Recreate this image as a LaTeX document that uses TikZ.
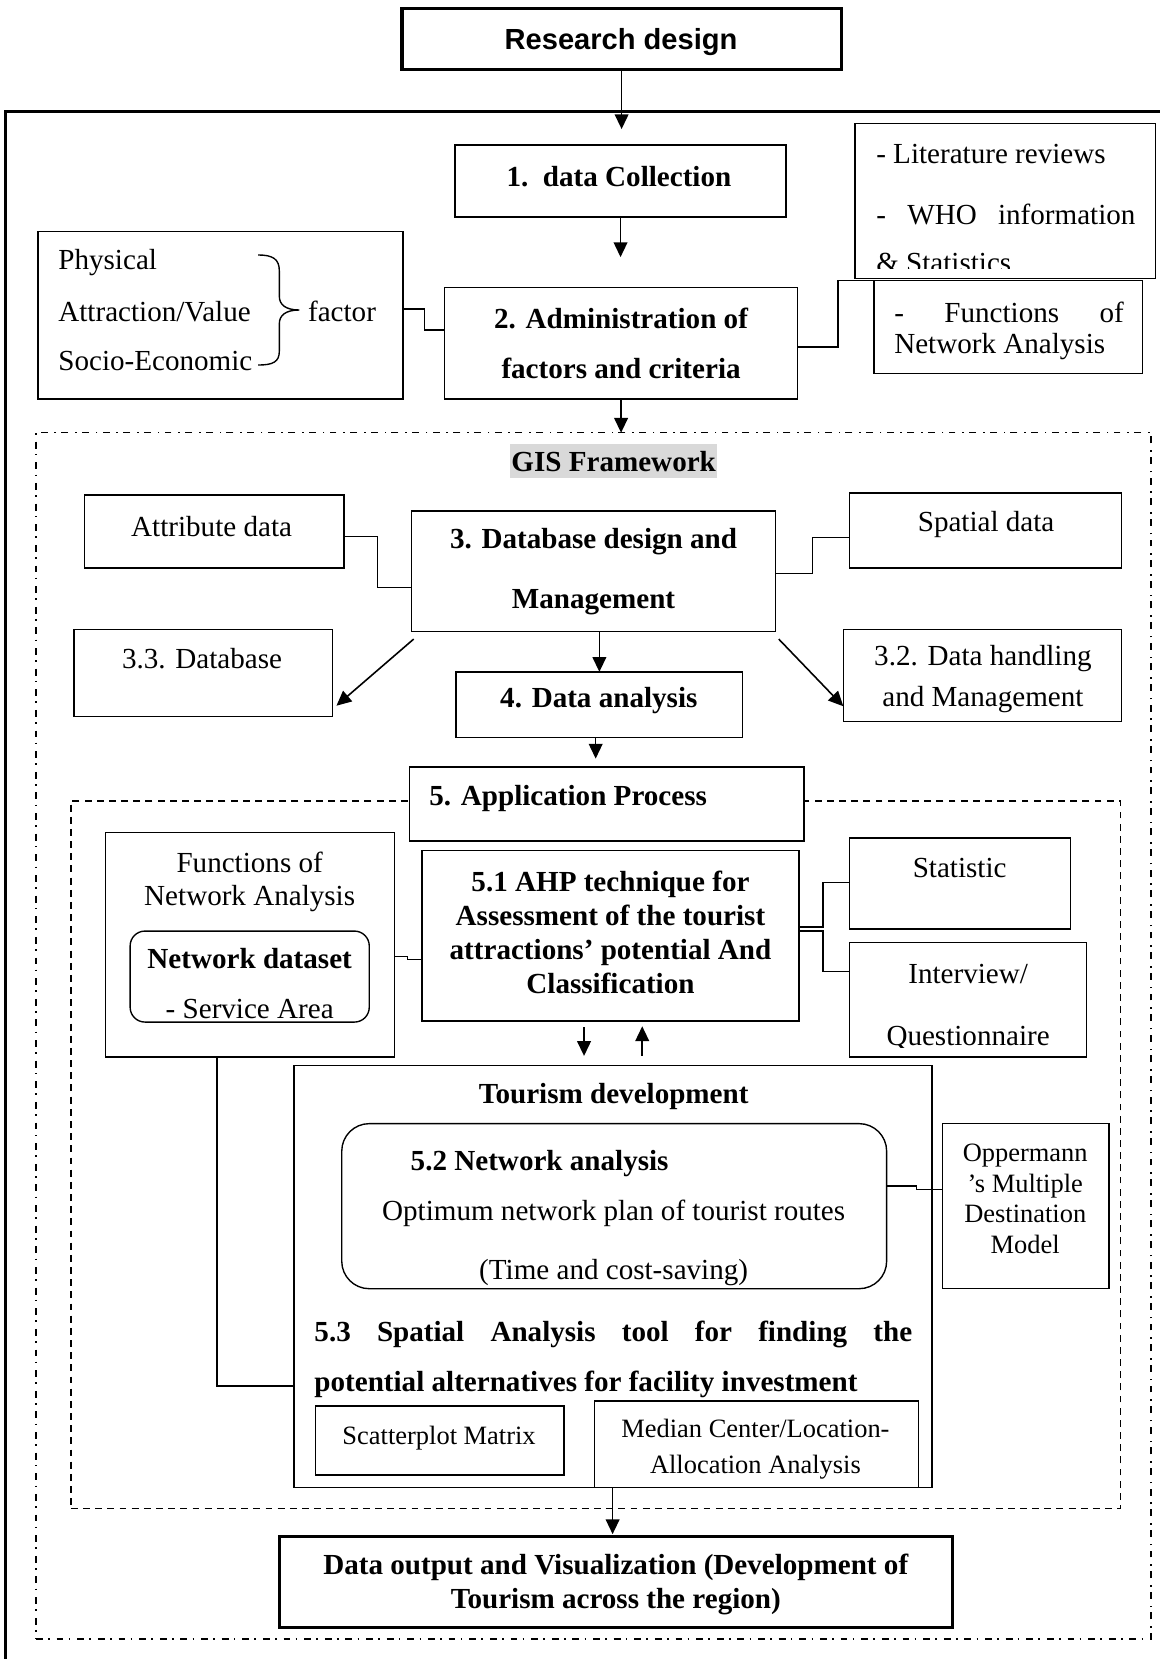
\documentclass[tikz,border=0pt]{standalone}
\usepackage{fontspec}
\setmainfont{Liberation Serif}
\newfontfamily\arialfont{Liberation Sans}
\usetikzlibrary{arrows.meta,calc}
\definecolor{labelgray}{RGB}{217,217,217}
\newcommand{\fs}{\fontsize{27.5}{32}\selectfont}
\newcommand{\fsm}{\fontsize{25}{29}\selectfont}
% box node from its corners: \bx[options]{x1}{y1}{x2}{y2}{name}
\newcommand{\bx}[6][]{\node[rect,anchor=north west,minimum width={#4-#2},minimum height={#5-#3},#1] (#6) at (#2,#3) {};}

\begin{document}
\begin{tikzpicture}[x=1pt,y=-1pt,
  rect/.style={draw, line width=1.3pt, fill=white, inner sep=0pt, outer sep=0pt},
  heavy/.style={line width=3pt},
  txtbase/.style={inner sep=0pt, yshift=-2.5pt},
  t/.style={txtbase, font=\fs},
  tb/.style={txtbase, font=\fs\bfseries},
  ts/.style={txtbase, font=\fsm},
  lines/.style={txtbase, align=center, font=\fontsize{27.5}{#1}\selectfont},
  blines/.style={txtbase, align=center, font=\fontsize{27.5}{#1}\selectfont\bfseries},
  slines/.style={txtbase, align=center, font=\fontsize{25}{#1}\selectfont},
  conn/.style={line width=1.3pt},
  arr/.style={line width=1.5pt, -{Triangle[length=14pt,width=13pt]}},
  dashdotframe/.style={line width=1.4pt, dash pattern=on 6.5pt off 5pt on 1.5pt off 6.5pt},
  dashedframe/.style={line width=1.3pt, dash pattern=on 6.5pt off 5pt},
]
\useasboundingbox (0,0) rectangle (1096,1568);

% outer solid frame (left and top edges)
\draw[line width=2.8pt] (5,1568) -- (5,105) -- (1096,105);

% title box
\bx[heavy]{380}{8}{795}{66}{rd}
\node[txtbase, font=\arialfont\fs\bfseries] (rd-t) at (587,37) {Research design};

% top section
\bx{430}{137}{743}{205}{dc}
\node[tb] (dc-t) at (585,164) {1.\ \ data Collection};

\bx{826}{265}{1080}{353}{fna}
\node[t, anchor=west] (fna-t1) at (845,293) {\makebox[217pt][s]{- Functions of}};
\node[t, anchor=west] (fna-t2) at (845,325) {Network Analysis};

\bx{808}{117}{1092}{263}{lit}
\node[t, anchor=west] (lit-t1) at (828,143) {- Literature reviews};
\node[t, anchor=west] (lit-t2) at (828,200) {\makebox[245pt][s]{- WHO information}};
\begin{scope}
  \clip (808,117) rectangle (1092,254);
  \node[t, anchor=west] (lit-t3) at (828,246) {\& Statistics};
\end{scope}

\bx{36}{219}{381}{377}{phys}
\node[t, anchor=west] (phys-t1) at (55,246) {Physical};
\node[t, anchor=west] (phys-t2) at (55,292) {Attraction/Value};
\node[t, anchor=west] (phys-t3) at (55,339) {Socio-Economic};
\draw[conn] (244,241) .. controls (258,241) and (264,245) .. (264,256) -- (264,280)
  .. controls (264,288) and (270,293) .. (283,293)
  .. controls (270,293) and (264,298) .. (264,306) -- (264,332)
  .. controls (264,342) and (258,345) .. (244,345);
\node[t, anchor=west] (phys-f) at (291,292) {factor};

\bx{420}{272}{754}{377}{adm}
\node[blines=48] (adm-t) at (587,322) {2. Administration of\\factors and criteria};

\draw[arr, shorten >=15pt] (rd.south) -- (rd.south |- dc.north);
\draw[arr, shorten >=29pt] (dc.south) -- (dc.south |- adm.north);
\draw[conn] (phys.east |- 0,292) -- (401,292) -- (401,312) -- (adm.west |- 0,312);
\draw[conn] (adm.east |- 0,328) -- (792,328) |- (fna.north west);

% GIS framework
\node[draw, dashdotframe, inner sep=0pt, outer sep=0pt, anchor=north west,
  minimum width=1054, minimum height=1140] (gis) at (34,409) {};
\draw[arr] (adm.south) -- (adm.south |- gis.north);
\node[inner sep=0pt, font=\fs\bfseries, fill=labelgray, inner xsep=1.5pt, minimum height=32pt] (gislab) at (580,436) {GIS Framework};

\bx{80}{468}{325}{537}{attr}
\node[t] (attr-t) at (200,495) {Attribute data};
\bx{389}{483}{733}{597}{db}
\node[blines=57] (db-t) at (561,537.5) {3. Database design and\\Management};
\bx{803}{466}{1060}{537}{sp}
\node[t] (sp-t) at (932,493) {Spatial data};
\bx{70}{595}{314}{677}{d33}
\node[t] (d33-t) at (191,620) {3.3. Database};
\bx{797}{595}{1060}{682}{d32}
\node[lines=39] (d32-t) at (929,639.5) {3.2. Data handling\\and Management};
\bx{431}{635}{702}{697}{da}
\node[tb] (da-t) at (566,660) {4. Data analysis};

\draw[conn] (attr.east |- 0,507) -- (357,507) |- (db.west |- 0,555);
\draw[conn] (db.east |- 0,542) -- (768,542) |- (sp.west |- 0,508);
\draw[arr] ($(db.south west)+(2,7)$) -- ($(d33.south east)+(4,-10)$);
\draw[arr] ($(db.south east)+(3,7)$) -- ($(d32.west)+(0,29)$);
\draw[arr] (da.north |- db.south) -- (da.north);

% application process
\node[draw, dashedframe, inner sep=0pt, outer sep=0pt, anchor=north west,
  minimum width=992, minimum height=669] (appf) at (67,757) {};
\bx{387}{725}{760}{795}{ap}
\node[tb] (ap-t) at (537,752) {5. Application Process};
\draw[arr, shorten >=8pt] (da.south -| 563,0) -- (ap.north -| 563,0);

\bx{100}{787}{373}{999}{fnb}
\node[lines=32] (fnb-t) at (236,831) {Functions of\\Network Analysis};
\bx[rounded corners=14pt]{123}{880}{349}{966}{nds}
\node[tb] (nds-t1) at (236,903) {Network dataset};
\node[t] (nds-t2) at (236,951) {- Service Area};

\bx{399}{804}{755}{965}{ahp}
\node[blines=32] (ahp-t) at (577,879) {5.1 AHP technique for\\Assessment of the tourist\\attractions’ potential And\\Classification};

\bx{803}{792}{1012}{878}{stat}
\node[t] (stat-t) at (907,818) {Statistic};
\bx{803}{891}{1027}{999}{intv}
\node[t] (intv-t1) at (915,918) {Interview/};
\begin{scope}
  \clip (803,891) rectangle (1027,990);
  \node[t] (intv-t2) at (915,979) {Questionnaire};
\end{scope}

\draw[conn] (fnb.east |- 0,904) -- (385,904) -- (385,907) -- (ahp.west |- 0,907);
\draw[conn] (ahp.east |- 0,876) -- (778,876) |- (stat.west |- 0,834);
\draw[conn] (ahp.east |- 0,880) -- (778,880) |- (intv.west |- 0,918);

% tourism development
\bx{278}{1007}{881}{1406}{tour}
\node[tb] (tour-t) at (580,1034) {Tourism development};
\draw[arr, shorten <=6pt, shorten >=9pt] (ahp.south -| 552,0) -- (tour.north -| 552,0);
\draw[arr, shorten <=9pt, shorten >=5pt] (tour.north -| 607,0) -- (ahp.south -| 607,0);

\bx[rounded corners=26pt]{323}{1062}{838}{1218}{na}
\node[tb, anchor=west] (na-t1) at (388,1097) {5.2 Network analysis};
\node[t] (na-t2) at (580,1144) {Optimum network plan of tourist routes};
\node[t] (na-t3) at (580,1200) {(Time and cost-saving)};

\bx{891}{1062}{1048}{1218}{opp}
\node[slines=29] (opp-t) at (969,1130.5) {Oppermann\\’s Multiple\\Destination\\Model};
\draw[conn] (na.east |- 0,1121) -- (866,1121) -- (866,1124) -- (opp.west |- 0,1124);

\node[txtbase, align=left, font=\fontsize{27.5}{47}\selectfont\bfseries, anchor=west] (spat-t) at (297,1282.5)
  {\makebox[565pt][s]{5.3 Spatial Analysis tool for finding the}\\potential alternatives for facility investment};

\bx{298}{1329}{533}{1394}{sc}
\node[ts] (sc-t) at (415,1357) {Scatterplot Matrix};
\bx{562}{1324}{868}{1406}{med}
\node[slines=34] (med-t) at (714,1367) {Median Center/Location-\\Allocation Analysis};

\draw[conn] (fnb.south -| 205,0) -- (205,1310) -- (tour.west |- 0,1310);

% output
\bx[heavy]{264}{1452}{900}{1538}{out}
\node[blines=32] (out-t) at (582,1495) {Data output and Visualization (Development of\\Tourism across the region)};
\draw[arr, shorten >=2pt] (tour.south -| 579,0) -- (out.north -| 579,0);

\end{tikzpicture}
\end{document}
